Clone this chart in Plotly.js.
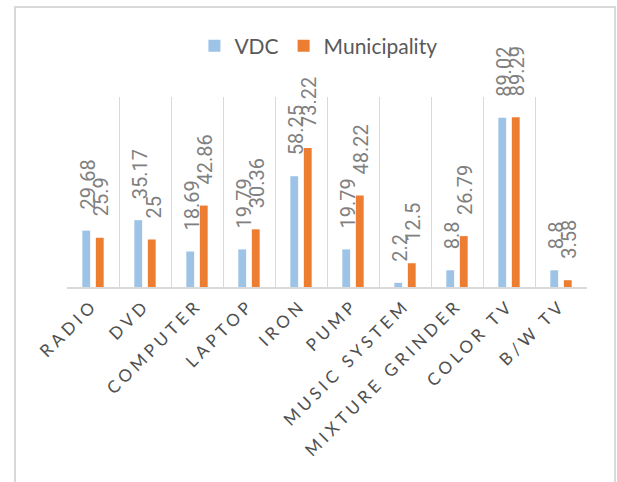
<!DOCTYPE html>
<html>
<head>
<meta charset="utf-8">
<script src="https://cdn.plot.ly/plotly-3.0.1.min.js"></script>
<style>
  html, body { margin: 0; padding: 0; background: #fff; }
  #chart { width: 617px; height: 482px; }
  .xtick text { letter-spacing: 4px; }
</style>
</head>
<body>
<div id="chart"></div>
<script>
const categories = ['RADIO', 'DVD', 'COMPUTER', 'LAPTOP', 'IRON', 'PUMP', 'MUSIC SYSTEM', 'MIXTURE GRINDER', 'COLOR TV', 'B/W TV'];
const vdcValues = [29.68, 35.17, 18.69, 19.79, 58.25, 19.79, 2.2, 8.8, 89.02, 8.8];
const municipalityValues = [25.9, 25, 42.86, 30.36, 73.22, 48.22, 12.5, 26.79, 89.29, 3.58];
const seriesNames = ['VDC', 'Municipality'];
const seriesColors = ['#9dc3e6', '#ed7d31'];

const traces = [
  { type: 'bar', name: seriesNames[0], x: categories, y: vdcValues, marker: { color: seriesColors[0] }, hoverinfo: 'none' },
  { type: 'bar', name: seriesNames[1], x: categories, y: municipalityValues, marker: { color: seriesColors[1] }, hoverinfo: 'none' }
];

const labelFont = { family: 'Liberation Sans Narrow, Roboto, sans-serif', size: 20, color: '#808080' };
const annotations = [];
[[vdcValues, -5], [municipalityValues, 8]].forEach(([vals, shift]) => {
  vals.forEach((v, i) => {
    annotations.push({
      x: categories[i], y: v, xref: 'x', yref: 'y',
      text: String(v), showarrow: false, textangle: -90,
      xanchor: 'center', yanchor: 'bottom', xshift: shift, yshift: 19,
      font: labelFont
    });
  });
});

const layout = {
  width: 617, height: 482,
  margin: { l: 67, r: 30, t: 97, b: 195 },
  paper_bgcolor: '#ffffff', plot_bgcolor: '#ffffff',
  barmode: 'group', bargap: 0.48, bargroupgap: 0.42,
  showlegend: true,
  legend: {
    orientation: 'h', x: 0.245, y: 1.268, xanchor: 'left', yanchor: 'middle',
    font: { family: 'Lato, sans-serif', size: 21, color: '#595959' },
    traceorder: 'normal'
  },
  xaxis: {
    type: 'category', tickson: 'boundaries', showgrid: true, gridcolor: '#d9d9d9', gridwidth: 1,
    showline: true, linecolor: '#d9d9d9', linewidth: 1.5, ticks: '', tickangle: -45,
    tickfont: { family: 'Lato, sans-serif', size: 17, color: '#505050' },
    zeroline: false, fixedrange: true
  },
  yaxis: { range: [0, 100], visible: false, showgrid: false, zeroline: false, fixedrange: true },
  annotations: annotations,
  shapes: [{
    type: 'rect', xref: 'paper', yref: 'paper', x0: -0.1, x1: 1.054, y0: -1.3, y1: 1.474,
    line: { color: '#d9d9d9', width: 2 }, layer: 'below'
  }]
};

Plotly.newPlot('chart', traces, layout, { displayModeBar: false, staticPlot: true });
</script>
</body>
</html>
